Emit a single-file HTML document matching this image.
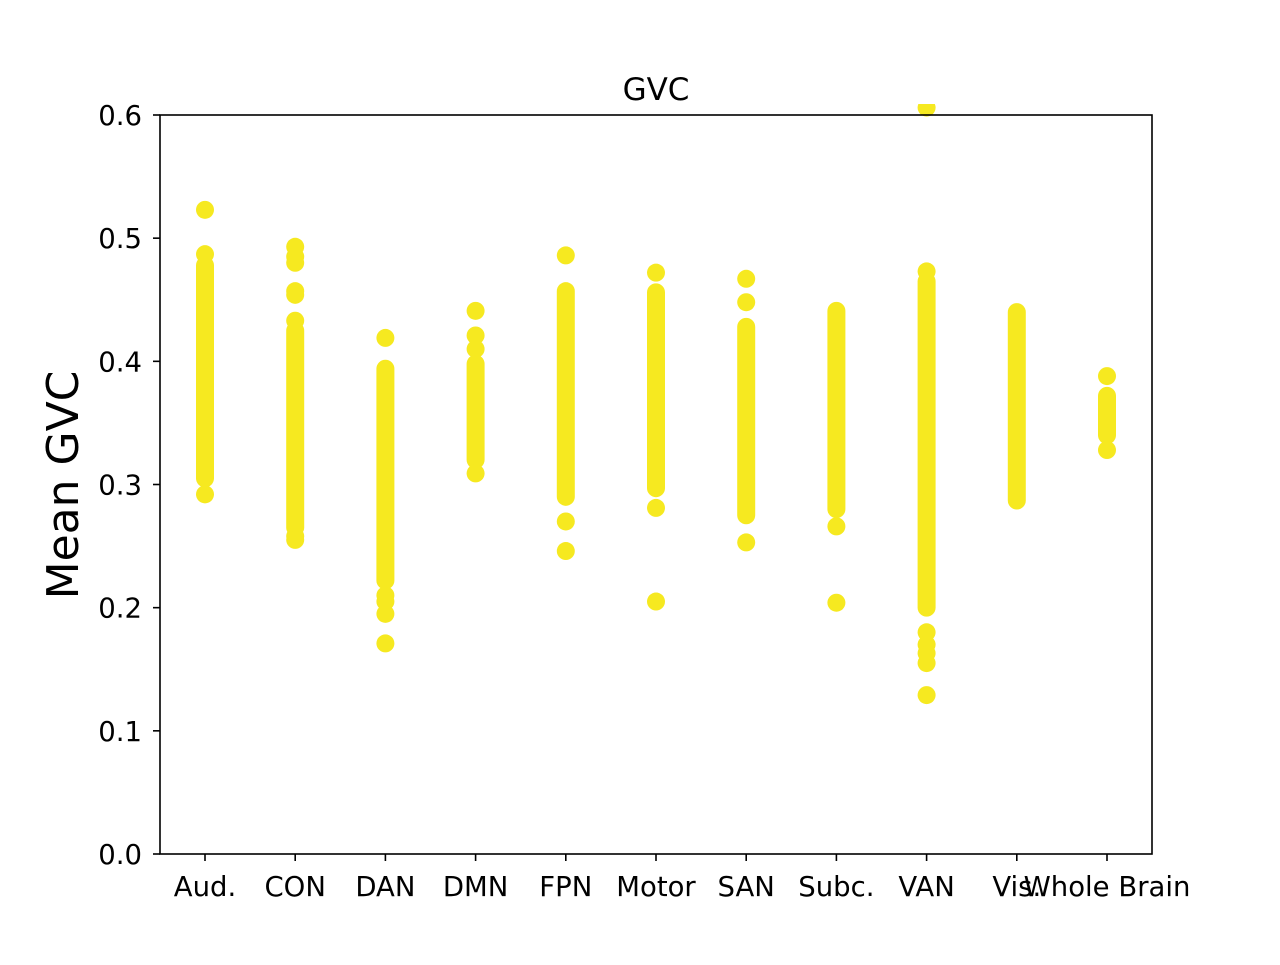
<!DOCTYPE html>
<html><head><meta charset="utf-8"><style>
body{margin:0;background:#fff}
svg{font-family:"DejaVu Sans","Liberation Sans",sans-serif}
</style></head><body>
<svg id="chart" width="1280" height="960">
<defs><clipPath id="plotclip"><rect x="160" y="104" width="992" height="750"/></clipPath></defs>
<rect x="0" y="0" width="1280" height="960" fill="#fff"/>
<text x="656" y="100" font-size="31" text-anchor="middle">GVC</text>
<text transform="translate(78,485) rotate(-90)" font-size="44" text-anchor="middle">Mean GVC</text>
<g id="marks" clip-path="url(#plotclip)"></g>
<g id="axes"></g>
</svg>
<script>
const categories=["Aud.","CON","DAN","DMN","FPN","Motor","SAN","Subc.","VAN","Vis.","Whole Brain"];
const denseLow=[0.305,0.265,0.222,0.32,0.29,0.297,0.275,0.28,0.2,0.287,0.34];
const denseHigh=[0.478,0.425,0.394,0.398,0.457,0.456,0.428,0.441,0.465,0.44,0.372];
const outliers=[[0.523,0.487,0.292],[0.493,0.485,0.480,0.457,0.454,0.433,0.258,0.255],[0.419,0.21,0.205,0.195,0.171],[0.441,0.421,0.41,0.309],[0.486,0.27,0.246],[0.472,0.281,0.205],[0.467,0.448,0.253],[0.266,0.204],[0.606,0.473,0.18,0.17,0.163,0.155,0.129],[],[0.388,0.328]];
const yTicks=[0,0.1,0.2,0.3,0.4,0.5,0.6];
const NS="http://www.w3.org/2000/svg";
const L=160,R=1152,T=115,B=854,yMax=0.6;
const xs=i=>205+i*(1107-205)/(categories.length-1);
const ys=v=>B-(v/yMax)*(B-T);
const col="#f6e920";
const marks=document.getElementById('marks'),axes=document.getElementById('axes');
function mk(tag,attrs,parent){const e=document.createElementNS(NS,tag);for(const k in attrs)e.setAttribute(k,attrs[k]);parent.appendChild(e);return e;}
categories.forEach((c,i)=>{
  const x=xs(i);
  const s=mk('line',{x1:x,x2:x,y1:ys(denseLow[i]),y2:ys(denseHigh[i]),stroke:col,'stroke-width':18,'stroke-linecap':'round'},marks);
  
  
  outliers[i].forEach(v=>{
    const d=mk('circle',{cx:x,cy:ys(v),r:9,fill:col},marks);
    
    
  });
  const t=mk('line',{x1:x,x2:x,y1:B,y2:B+7,stroke:'#000','stroke-width':1.6},axes);
  
  
  const lb=mk('text',{x:x,y:B+42,'font-size':27.5,'text-anchor':'middle'},axes);
  lb.textContent=c;
  
  
});
yTicks.forEach(v=>{
  const y=ys(v);
  const t=mk('line',{x1:L-7,x2:L,y1:y,y2:y,stroke:'#000','stroke-width':1.6},axes);
  
  
  const lb=mk('text',{x:L-18,y:y+10,'font-size':27.5,'text-anchor':'end'},axes);
  lb.textContent=v.toFixed(1);
  
  
});
const fr=mk('rect',{x:L,y:T,width:R-L,height:B-T,fill:'none',stroke:'#000','stroke-width':1.6},axes);


</script>
</body></html>
